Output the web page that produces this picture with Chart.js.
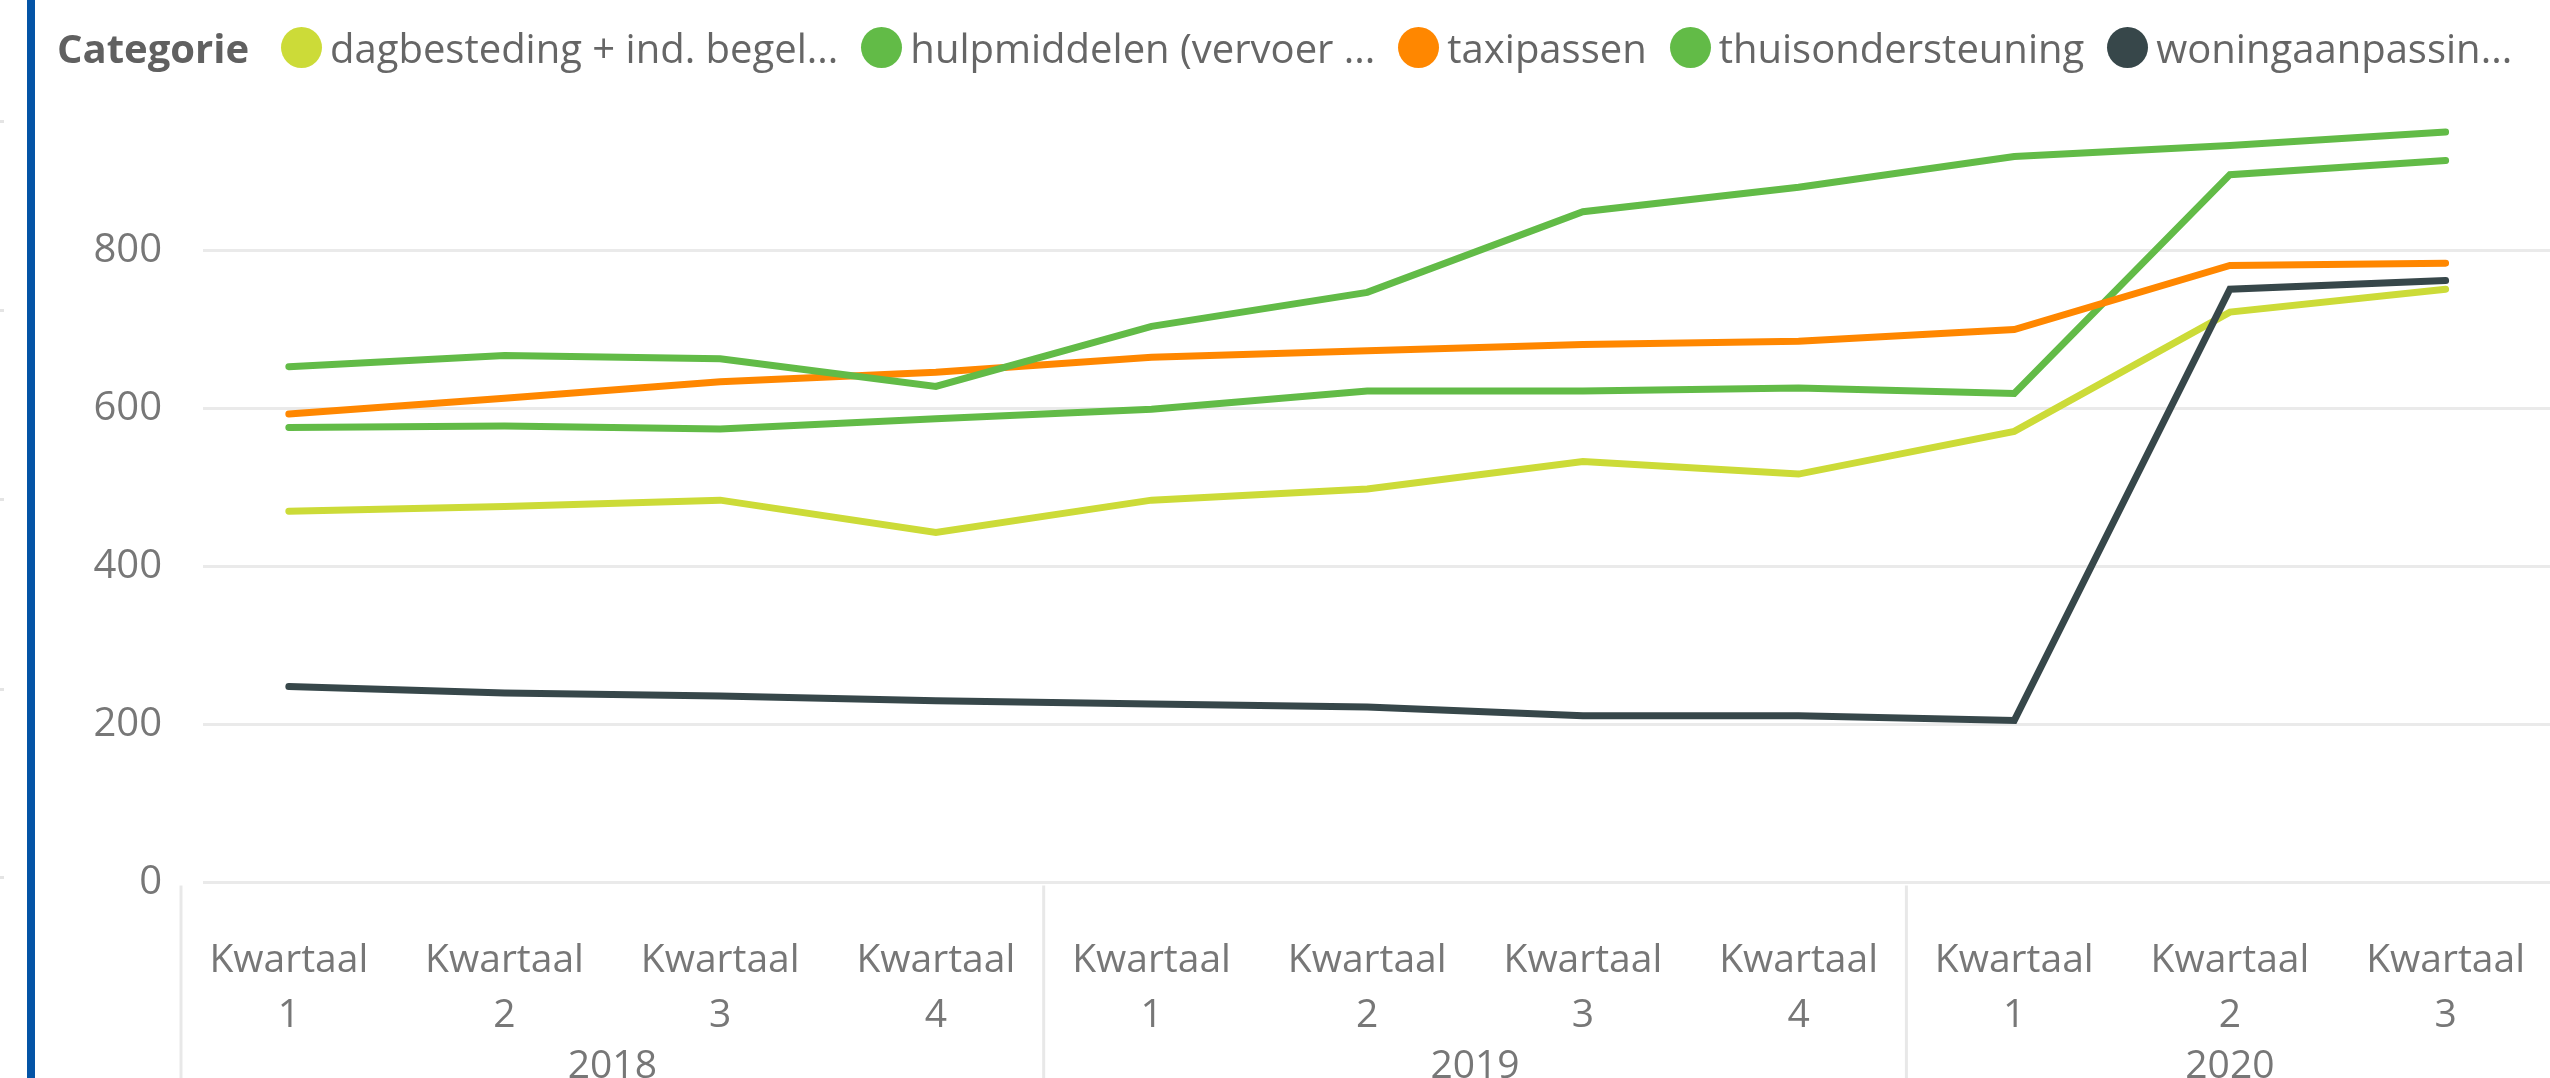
<!DOCTYPE html>
<html>
<head>
<meta charset="utf-8">
<script src="https://cdn.jsdelivr.net/npm/chart.js@4.4.1/dist/chart.umd.min.js"></script>
<style>
html,body{margin:0;padding:0;background:#fff;width:2550px;height:1078px;overflow:hidden;}
#clip{position:absolute;left:0;top:0;width:2550px;height:1078px;overflow:hidden;}
#wrap{position:absolute;left:0;top:0;width:2576px;height:1078px;}
#c{display:block;width:2576px;height:1078px;}
#bar{position:absolute;left:27px;top:0;width:8px;height:1078px;background:#0454A6;}
.mark{position:absolute;left:0;width:4px;height:3px;background:#e4e4e4;}
#legend{position:absolute;left:57px;top:19px;height:56px;display:flex;align-items:center;font-family:'Open Sans',sans-serif;font-size:40px;color:#666;white-space:nowrap;}
#legend .title{font-weight:bold;margin-right:32px;color:#606060;}
#legend .item{display:flex;align-items:center;margin-right:23px;}
#legend .dot{width:41px;height:41px;border-radius:50%;margin-right:8px;}
</style>
</head>
<body>
<div id="clip">
<div id="wrap"><canvas id="c" width="2576" height="1078"></canvas></div>
<div id="bar"></div>
<div class="mark" style="top:120px"></div>
<div class="mark" style="top:309px"></div>
<div class="mark" style="top:498px"></div>
<div class="mark" style="top:688px"></div>
<div class="mark" style="top:876px"></div>
<div id="legend"></div>
</div>
<script>
const legendTitle = "Categorie";
const quarters = ["1","2","3","4","1","2","3","4","1","2","3"];
const years = ["2018","2018","2018","2018","2019","2019","2019","2019","2020","2020","2020"];
const quarterWord = "Kwartaal";
const seriesNames = ["dagbesteding + ind. begel...","hulpmiddelen (vervoer ...","taxipassen","thuisondersteuning","woningaanpassin..."];
const dagbesteding      = [470, 476, 484, 443, 484, 498, 533, 517, 571, 722, 751];
const hulpmiddelen      = [576, 578, 574, 587, 599, 622, 622, 626, 619, 896, 914];
const taxipassen        = [593, 613, 634, 646, 665, 673, 681, 685, 700, 781, 784];
const thuisondersteuning= [653, 667, 663, 628, 704, 747, 849, 880, 919, 933, 950];
const woningaanpassing  = [248, 240, 236, 230, 226, 222, 211, 211, 205, 751, 762];
const seriesColors = ["#CCDB38","#62BB47","#FF8700","#62BB47","#37474A"];
const yTicks = [0, 200, 400, 600, 800];
const yMax = 980;

const seriesValues = [dagbesteding, hulpmiddelen, taxipassen, thuisondersteuning, woningaanpassing];

// HTML legend built from the series arrays
const lg = document.getElementById('legend');
const t = document.createElement('span'); t.className='title'; t.textContent=legendTitle; lg.appendChild(t);
seriesNames.forEach((n,i)=>{
  const it=document.createElement('span'); it.className='item';
  const d=document.createElement('span'); d.className='dot'; d.style.background=seriesColors[i];
  const s=document.createElement('span'); s.textContent=n;
  it.appendChild(d); it.appendChild(s); lg.appendChild(it);
});

const FONT = "'Open Sans', sans-serif";
const TXT = '#777777';

const pbiPlugin = {
  id:'pbi',
  beforeDatasetsDraw(chart){
    const {ctx, chartArea, scales:{y}} = chart;
    ctx.save();
    ctx.strokeStyle='#EAEAEA'; ctx.lineWidth=3;
    y.ticks.forEach(tk=>{
      const py=y.getPixelForValue(tk.value);
      ctx.beginPath(); ctx.moveTo(chartArea.left+22, py); ctx.lineTo(chartArea.right, py); ctx.stroke();
    });
    ctx.restore();
  },
  afterDraw(chart){
    const {ctx, chartArea, scales:{x}} = chart;
    const half=(x.getPixelForValue(1)-x.getPixelForValue(0))/2;
    const H=chart.height;
    ctx.save();
    let s=0;
    while(s<years.length){
      let e=s; while(e+1<years.length && years[e+1]===years[s]) e++;
      const L=x.getPixelForValue(s)-half, R=x.getPixelForValue(e)+half;
      ctx.strokeStyle='#E8E8E8'; ctx.lineWidth=3;
      ctx.beginPath(); ctx.moveTo(L, chartArea.bottom+3); ctx.lineTo(L, H); ctx.stroke();
      ctx.fillStyle=TXT; ctx.font="39px "+FONT; ctx.textAlign='center'; ctx.textBaseline='alphabetic';
      ctx.fillText(years[s], (L+R)/2, 1078);
      s=e+1;
    }
    ctx.restore();
  }
};

new Chart(document.getElementById('c'), {
  type:'line',
  data:{
    labels: quarters.map(q=>[quarterWord,q]),
    datasets: seriesNames.map((n,i)=>({
      label:n, data:seriesValues[i], borderColor:seriesColors[i], backgroundColor:seriesColors[i],
      borderWidth:7, pointRadius:0, tension:0, borderCapStyle:'round', borderJoinStyle:'miter', fill:false,
      order: seriesNames.length-1-i
    }))
  },
  options:{
    responsive:false, maintainAspectRatio:false, animation:false, devicePixelRatio:1,
    layout:{padding:{top:108.3,left:0,right:0,bottom:0}},
    plugins:{legend:{display:false}, tooltip:{enabled:false}, title:{display:false}},
    scales:{
      x:{
        offset:true,
        grid:{display:false, drawTicks:false}, border:{display:false},
        ticks:{font:{family:FONT,size:39,lineHeight:1.41}, color:TXT, padding:51, maxRotation:0, autoSkip:false},
        afterFit(s){ s.height=195.5; }
      },
      y:{
        min:0, max:yMax,
        grid:{display:false, drawTicks:false}, border:{display:false},
        ticks:{font:{family:FONT,size:40}, color:TXT, padding:19},
        afterBuildTicks(s){ s.ticks = yTicks.map(v=>({value:v})); },
        afterFit(s){ s.width=181; }
      }
    }
  },
  plugins:[pbiPlugin]
});
</script>
</body>
</html>
